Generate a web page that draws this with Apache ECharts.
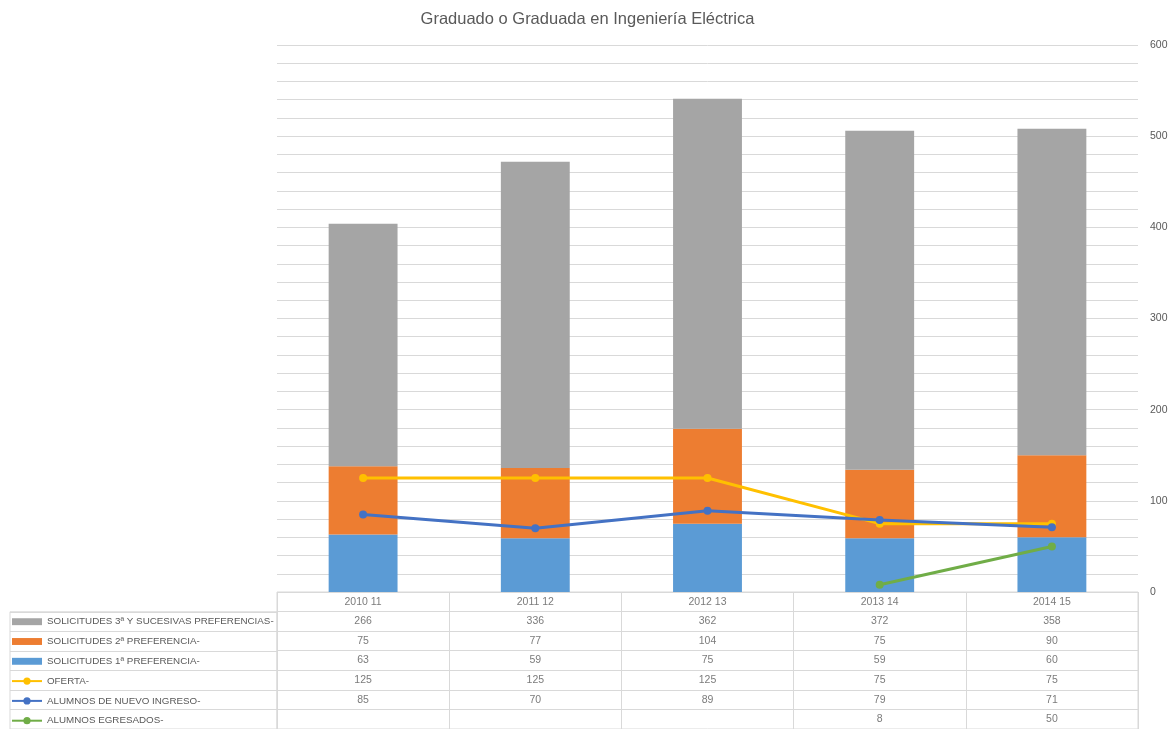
<!DOCTYPE html>
<html><head><meta charset="utf-8">
<script src="https://cdn.jsdelivr.net/npm/echarts@6/dist/echarts.min.js"></script>
<style>html,body{margin:0;padding:0;background:#fff}#c{width:1175px;height:729px}</style>
</head><body><div id="c"></div>
<script>
const categories = ['2010 11', '2011 12', '2012 13', '2013 14', '2014 15'];
const sol3 = [266, 336, 362, 372, 358];
const sol2 = [75, 77, 104, 75, 90];
const sol1 = [63, 59, 75, 59, 60];
const oferta = [125, 125, 125, 75, 75];
const nuevoIngreso = [85, 70, 89, 79, 71];
const egresados = [null, null, null, 8, 50];
const seriesNames = ['SOLICITUDES 3ª Y SUCESIVAS PREFERENCIAS-', 'SOLICITUDES 2ª PREFERENCIA-', 'SOLICITUDES 1ª PREFERENCIA-', 'OFERTA-', 'ALUMNOS DE NUEVO INGRESO-', 'ALUMNOS EGRESADOS-'];
const colors = ['#A5A5A5', '#ED7D31', '#5B9BD5', '#FFC000', '#4472C4', '#70AD47'];
const yMin = 0, yMax = 600, yStep = 100;

const txt = '#595959';
const grid = '#D9D9D9';
const font = "'Liberation Sans', Arial, sans-serif";

const tableRowKeys = ['header'].concat(seriesNames);
const tableValues = [categories, sol3, sol2, sol1, oferta, nuevoIngreso, egresados];
const cells = [];
tableValues.forEach((row, r) => row.forEach((v, c) => { if (v !== null && v !== undefined) cells.push([c, r]); }));

const chart = echarts.init(document.getElementById('c'));
chart.setOption({
  animation: false,
  backgroundColor: '#fff',
  title: {
    text: 'Graduado o Graduada en Ingeniería Eléctrica',
    left: 'center', top: 6,
    textStyle: { fontSize: 16.5, fontWeight: 'normal', color: txt, fontFamily: font }
  },
  legend: {
    orient: 'vertical', left: 11, top: 614.7, padding: 0,
    itemWidth: 30, itemHeight: 9, itemGap: 5.8, selectedMode: false,
    textStyle: { color: txt, fontSize: 9.8, lineHeight: 14, fontFamily: font },
    data: seriesNames.map((n, i) => i < 3 ? { name: n, icon: 'path://M0 0H26V6H0Z' } : { name: n })
  },
  grid: [
    { left: 277, right: 37, top: 45, bottom: 137 },
    { left: 277, right: 37, top: 592, height: 138.6, show: true, borderColor: grid, borderWidth: 1 },
    { left: 10, width: 267, top: 611.8, height: 118.8, show: true, borderColor: grid, borderWidth: 1 }
  ],
  xAxis: [
    { type: 'category', data: categories, gridIndex: 0, axisLabel: { show: false }, axisLine: { show: false }, axisTick: { show: false } },
    { type: 'category', data: categories, gridIndex: 1, axisLabel: { show: false }, axisLine: { show: false }, axisTick: { show: false },
      splitLine: { show: true, lineStyle: { color: grid, width: 1 } } },
    { type: 'value', gridIndex: 2, show: false }
  ],
  yAxis: [
    { type: 'value', gridIndex: 0, position: 'right', min: yMin, max: yMax, interval: yStep,
      axisLabel: { color: txt, fontSize: 10.5, margin: 12, fontFamily: font },
      axisLine: { show: false }, axisTick: { show: false },
      splitLine: { show: true, lineStyle: { color: grid, width: 1 } },
      minorTick: { show: false, splitNumber: 5 },
      minorSplitLine: { show: true, lineStyle: { color: grid, width: 1 } } },
    { type: 'category', data: tableRowKeys, gridIndex: 1, inverse: true, axisLabel: { show: false }, axisLine: { show: false }, axisTick: { show: false },
      splitLine: { show: true, lineStyle: { color: grid, width: 1 } } },
    { type: 'category', data: seriesNames, gridIndex: 2, inverse: true, axisLabel: { show: false }, axisLine: { show: false }, axisTick: { show: false },
      splitLine: { show: true, lineStyle: { color: grid, width: 1 } } }
  ],
  series: [
    { name: seriesNames[2], type: 'bar', stack: 'sol', data: sol1, barWidth: '40%', itemStyle: { color: colors[2] }, xAxisIndex: 0, yAxisIndex: 0 },
    { name: seriesNames[1], type: 'bar', stack: 'sol', data: sol2, barWidth: '40%', itemStyle: { color: colors[1] }, xAxisIndex: 0, yAxisIndex: 0 },
    { name: seriesNames[0], type: 'bar', stack: 'sol', data: sol3, barWidth: '40%', itemStyle: { color: colors[0] }, xAxisIndex: 0, yAxisIndex: 0 },
    { name: seriesNames[3], type: 'line', data: oferta, symbol: 'circle', symbolSize: 8, z: 3,
      lineStyle: { color: colors[3], width: 3 }, itemStyle: { color: colors[3] } },
    { name: seriesNames[4], type: 'line', data: nuevoIngreso, symbol: 'circle', symbolSize: 8, z: 4,
      lineStyle: { color: colors[4], width: 3 }, itemStyle: { color: colors[4] } },
    { name: seriesNames[5], type: 'line', data: egresados, symbol: 'circle', symbolSize: 8, z: 5, connectNulls: false,
      lineStyle: { color: colors[5], width: 3 }, itemStyle: { color: colors[5] } },
    { name: 'tabla', type: 'scatter', xAxisIndex: 1, yAxisIndex: 1, data: cells, symbolSize: 1, silent: true,
      itemStyle: { color: 'rgba(0,0,0,0)' },
      label: { show: true, position: 'inside', color: txt, fontSize: 10.5, fontFamily: font,
        formatter: p => String(tableValues[p.value[1]][p.value[0]]) } }
  ]
});
</script>
</body></html>
